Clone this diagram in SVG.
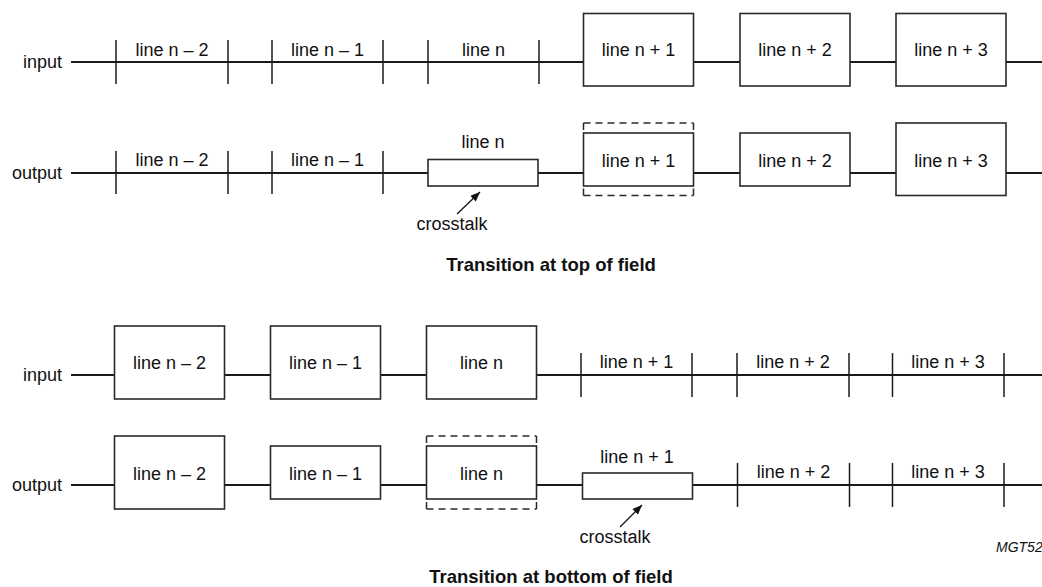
<svg xmlns="http://www.w3.org/2000/svg" width="1042" height="587" viewBox="0 0 1042 587">
<defs>
<style>
.t{font-family:"Liberation Sans",Arial,sans-serif;font-size:18px;fill:#111;text-anchor:middle}
.lbl{font-family:"Liberation Sans",Arial,sans-serif;font-size:18px;fill:#111;text-anchor:end}
.ttl{font-family:"Liberation Sans",Arial,sans-serif;font-size:18.5px;font-weight:bold;fill:#111;text-anchor:middle}
.ref{font-family:"Liberation Sans",Arial,sans-serif;font-size:14px;font-style:italic;fill:#111}
.row{stroke:#1a1a1a;stroke-width:2;fill:none}
.tick{stroke:#1a1a1a;stroke-width:1.5;fill:none}
.box{stroke:#2a2a2a;stroke-width:1.6;fill:#fff}
.dash{stroke:#2a2a2a;stroke-width:1.5;fill:none;stroke-dasharray:7 5}
.side{stroke:#2a2a2a;stroke-width:1.5;fill:none}
.arr{stroke:#111;stroke-width:1.3;fill:none;marker-end:url(#ah)}
</style>
<marker id="ah" viewBox="0 0 12 10" refX="12" refY="5" markerWidth="12" markerHeight="8" markerUnits="userSpaceOnUse" orient="auto">
<path d="M0,0 L12,5 L0,10 Z" fill="#111"/>
</marker>
</defs>
<rect width="1042" height="587" fill="#fff"/>

<g id="connectors">
<line class="row" x1="71" y1="62" x2="1042" y2="62"/>
<line class="row" x1="71" y1="173" x2="1042" y2="173"/>
<line class="row" x1="71" y1="375" x2="1042" y2="375"/>
<line class="row" x1="71" y1="485" x2="1042" y2="485"/>
<line class="arr" x1="457" y1="214" x2="480" y2="192"/>
<line class="arr" x1="620" y1="527" x2="642" y2="505"/>
</g>

<g id="labels">
<text class="lbl" x="62" y="68">input</text>
<text class="lbl" x="62" y="179">output</text>
<text class="lbl" x="62" y="381">input</text>
<text class="lbl" x="62" y="491">output</text>
</g>

<!-- TOP: input row -->
<g id="top-in-n-2"><line class="tick" x1="116" y1="40" x2="116" y2="84"/><line class="tick" x1="228" y1="40" x2="228" y2="84"/><text class="t" x="172" y="56">line n – 2</text></g>
<g id="top-in-n-1"><line class="tick" x1="272" y1="40" x2="272" y2="84"/><line class="tick" x1="383" y1="40" x2="383" y2="84"/><text class="t" x="327.5" y="56">line n – 1</text></g>
<g id="top-in-n"><line class="tick" x1="428" y1="40" x2="428" y2="84"/><line class="tick" x1="539" y1="40" x2="539" y2="84"/><text class="t" x="483.5" y="56">line n</text></g>
<g id="top-in-n+1"><rect class="box" x="583.5" y="13.5" width="110" height="72.5"/><text class="t" x="638.5" y="56">line n + 1</text></g>
<g id="top-in-n+2"><rect class="box" x="740" y="13.5" width="110" height="72.5"/><text class="t" x="795" y="56">line n + 2</text></g>
<g id="top-in-n+3"><rect class="box" x="896" y="13.5" width="110" height="72.5"/><text class="t" x="951" y="56">line n + 3</text></g>

<!-- TOP: output row -->
<g id="top-out-n-2"><line class="tick" x1="116" y1="151" x2="116" y2="194"/><line class="tick" x1="228" y1="151" x2="228" y2="194"/><text class="t" x="172" y="166">line n – 2</text></g>
<g id="top-out-n-1"><line class="tick" x1="272" y1="151" x2="272" y2="194"/><line class="tick" x1="383" y1="151" x2="383" y2="194"/><text class="t" x="327.5" y="166">line n – 1</text></g>
<g id="top-out-n"><rect class="box" x="428" y="159.5" width="110" height="26.5"/><text class="t" x="483" y="148">line n</text><text class="t" x="452" y="230">crosstalk</text></g>
<g id="top-out-n+1">
<line class="dash" x1="583.5" y1="123" x2="693.5" y2="123"/>
<line class="dash" x1="583.5" y1="195.5" x2="693.5" y2="195.5"/>
<path class="side" d="M583.5,123 v7 M693.5,123 v7 M583.5,195.5 v-7 M693.5,195.5 v-7"/>
<rect class="box" x="583.5" y="133" width="110" height="53"/><text class="t" x="638.5" y="166.5">line n + 1</text></g>
<g id="top-out-n+2"><rect class="box" x="740" y="133" width="110" height="53"/><text class="t" x="795" y="166.5">line n + 2</text></g>
<g id="top-out-n+3"><rect class="box" x="896" y="123" width="110" height="72.5"/><text class="t" x="951" y="166.5">line n + 3</text></g>

<text class="ttl" x="551" y="271">Transition at top of field</text>

<!-- BOTTOM: input row -->
<g id="bot-in-n-2"><rect class="box" x="114.5" y="326" width="110" height="73"/><text class="t" x="169.5" y="369">line n – 2</text></g>
<g id="bot-in-n-1"><rect class="box" x="270.5" y="326" width="110" height="73"/><text class="t" x="325.5" y="369">line n – 1</text></g>
<g id="bot-in-n"><rect class="box" x="426.5" y="326" width="110" height="73"/><text class="t" x="481.5" y="369">line n</text></g>
<g id="bot-in-n+1"><line class="tick" x1="581" y1="353" x2="581" y2="397"/><line class="tick" x1="692" y1="353" x2="692" y2="397"/><text class="t" x="636.5" y="368">line n + 1</text></g>
<g id="bot-in-n+2"><line class="tick" x1="737" y1="353" x2="737" y2="397"/><line class="tick" x1="849" y1="353" x2="849" y2="397"/><text class="t" x="793" y="368">line n + 2</text></g>
<g id="bot-in-n+3"><line class="tick" x1="892.5" y1="353" x2="892.5" y2="397"/><line class="tick" x1="1004" y1="353" x2="1004" y2="397"/><text class="t" x="948" y="368">line n + 3</text></g>

<!-- BOTTOM: output row -->
<g id="bot-out-n-2"><rect class="box" x="114.5" y="436" width="110" height="73"/><text class="t" x="169.5" y="480">line n – 2</text></g>
<g id="bot-out-n-1"><rect class="box" x="270.5" y="446" width="110" height="53"/><text class="t" x="325.5" y="480">line n – 1</text></g>
<g id="bot-out-n">
<line class="dash" x1="426.5" y1="436" x2="536.5" y2="436"/>
<line class="dash" x1="426.5" y1="509" x2="536.5" y2="509"/>
<path class="side" d="M426.5,436 v7 M536.5,436 v7 M426.5,509 v-7 M536.5,509 v-7"/>
<rect class="box" x="426.5" y="446" width="110" height="53"/><text class="t" x="481.5" y="480">line n</text></g>
<g id="bot-out-n+1"><rect class="box" x="582.5" y="473" width="110" height="26"/><text class="t" x="637" y="463">line n + 1</text><text class="t" x="615" y="543">crosstalk</text></g>
<g id="bot-out-n+2"><line class="tick" x1="737.5" y1="463" x2="737.5" y2="507"/><line class="tick" x1="849.5" y1="463" x2="849.5" y2="507"/><text class="t" x="793.5" y="478">line n + 2</text></g>
<g id="bot-out-n+3"><line class="tick" x1="892.5" y1="463" x2="892.5" y2="507"/><line class="tick" x1="1004" y1="463" x2="1004" y2="507"/><text class="t" x="948" y="478">line n + 3</text></g>

<text class="ref" x="996" y="552">MGT52</text>
<text class="ttl" x="551" y="583">Transition at bottom of field</text>
</svg>
